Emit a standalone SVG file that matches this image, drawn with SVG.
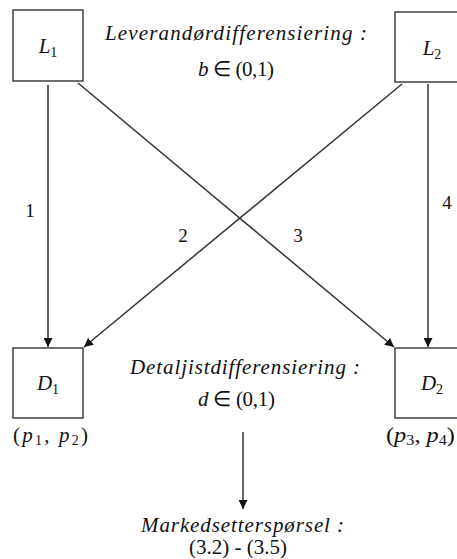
<svg xmlns="http://www.w3.org/2000/svg" width="457" height="559" viewBox="0 0 457 559">
<style>
text{font-family:"Liberation Serif","Times New Roman",serif;fill:#111;}
.it{font-style:italic;}
.lbl{font-size:21px;}
.num{font-size:19px;}
.box{fill:#fff;stroke:#222;stroke-width:1.3;}
.ln{stroke:#333;stroke-width:1.5;fill:none;marker-end:url(#ah);}
</style>
<defs>
<marker id="ah" viewBox="0 0 10 10" refX="10" refY="5" markerWidth="9" markerHeight="9" markerUnits="userSpaceOnUse" orient="auto">
<path d="M0,0 L10,5 L0,10 z" fill="#111"/>
</marker>
</defs>
<g id="connectors">
<line class="ln" x1="48" y1="85" x2="48" y2="347"/>
<line class="ln" x1="78" y1="83" x2="394" y2="347"/>
<line class="ln" x1="402" y1="84" x2="84" y2="347"/>
<line class="ln" x1="428" y1="84" x2="428" y2="347"/>
<line class="ln" x1="243" y1="432" x2="243" y2="509"/>
</g>
<g id="L1">
<rect class="box" x="13" y="10" width="70" height="71"/>
<text class="lbl" x="48" y="53" text-anchor="middle"><tspan class="it">L</tspan><tspan font-size="14" dy="4">1</tspan></text>
</g>
<g id="L2">
<rect class="box" x="395" y="12" width="70" height="70"/>
<text class="lbl" x="432" y="55" text-anchor="middle"><tspan class="it">L</tspan><tspan font-size="14" dy="4">2</tspan></text>
</g>
<g id="D1">
<rect class="box" x="13" y="348" width="70" height="70"/>
<text class="lbl" x="48" y="390" text-anchor="middle"><tspan class="it">D</tspan><tspan font-size="14" dy="4">1</tspan></text>
<text class="lbl" x="13" y="442" textLength="75" lengthAdjust="spacing">(<tspan class="it">p</tspan><tspan font-size="14" dy="3">1</tspan><tspan dy="-3">, </tspan><tspan class="it">p</tspan><tspan font-size="14" dy="3">2</tspan><tspan dy="-3">)</tspan></text>
</g>
<g id="D2">
<rect class="box" x="395" y="348" width="70" height="70"/>
<text class="lbl" x="432" y="390" text-anchor="middle"><tspan class="it">D</tspan><tspan font-size="14" dy="4">2</tspan></text>
<text class="lbl" x="386" y="442" textLength="69" lengthAdjust="spacingAndGlyphs">(<tspan class="it">p</tspan><tspan font-size="14" dy="3">3</tspan><tspan dy="-3">, </tspan><tspan class="it">p</tspan><tspan font-size="14" dy="3">4</tspan><tspan dy="-3">)</tspan></text>
</g>
<g id="supplier-diff">
<text class="lbl it" x="105" y="40" textLength="262" lengthAdjust="spacing">Leverandørdifferensiering :</text>
<text class="lbl" x="198" y="76" textLength="76" lengthAdjust="spacing"><tspan class="it">b</tspan> ∈ (0,1)</text>
</g>
<g id="retail-diff">
<text class="lbl it" x="130" y="374" textLength="230" lengthAdjust="spacing">Detaljistdifferensiering :</text>
<text class="lbl" x="198" y="406" textLength="77" lengthAdjust="spacing"><tspan class="it">d</tspan> ∈ (0,1)</text>
</g>
<g id="demand">
<text class="lbl it" x="141" y="532" textLength="203" lengthAdjust="spacing">Markedsetterspørsel :</text>
<text class="lbl" x="189" y="554" textLength="98" lengthAdjust="spacing">(3.2) - (3.5)</text>
</g>
<g id="edge-labels">
<text class="num" x="30" y="217" text-anchor="middle">1</text>
<text class="num" x="183" y="242" text-anchor="middle">2</text>
<text class="num" x="298" y="242" text-anchor="middle">3</text>
<text class="num" x="447" y="209" text-anchor="middle">4</text>
</g>
</svg>
